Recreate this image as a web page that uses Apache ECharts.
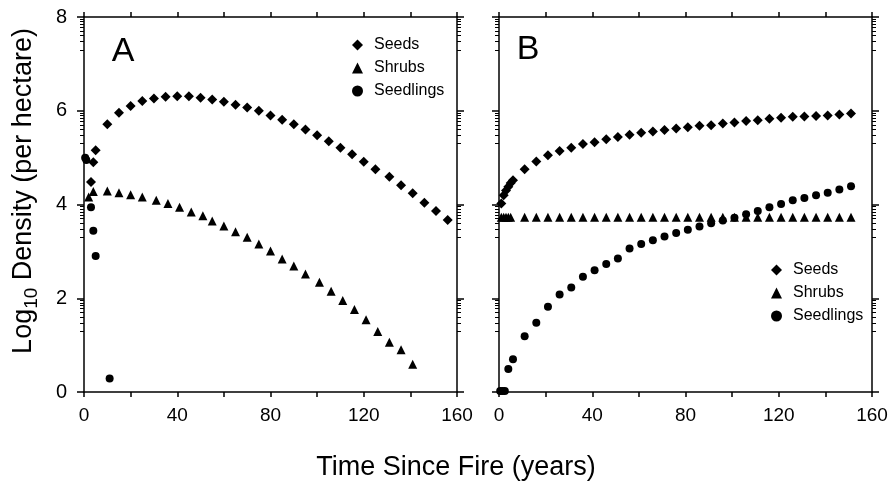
<!DOCTYPE html>
<html>
<head>
<meta charset="utf-8">
<script src="https://cdn.jsdelivr.net/npm/echarts@6/dist/echarts.min.js"></script>
<style>
  html, body { margin: 0; padding: 0; background: #fff; }
  #chart { width: 891px; height: 490px; }
</style>
</head>
<body>
<div id="chart"></div>
<script>
// panel A: [years since fire, log10 density]
const seedsA = [[3, 4.48], [4, 4.9], [5, 5.16], [10, 5.71], [15, 5.96], [20, 6.1], [25, 6.21], [30, 6.26], [35, 6.3], [40, 6.31], [45, 6.31], [50, 6.28], [55, 6.24], [60, 6.19], [65, 6.13], [70, 6.07], [75, 6.0], [80, 5.9], [85, 5.81], [90, 5.71], [95, 5.6], [100, 5.48], [105, 5.35], [110, 5.21], [115, 5.07], [120, 4.91], [125, 4.75], [131, 4.59], [136, 4.41], [141, 4.24], [146, 4.04], [151, 3.86], [156, 3.67]]
const shrubsA = [[2, 4.16], [4, 4.28], [10, 4.29], [15, 4.25], [20, 4.21], [25, 4.16], [31, 4.09], [36, 4.02], [41, 3.94], [46, 3.84], [51, 3.76], [55, 3.65], [60, 3.54], [65, 3.42], [70, 3.3], [75, 3.16], [80, 3.01], [85, 2.84], [90, 2.69], [95, 2.52], [101, 2.34], [106, 2.15], [111, 1.95], [116, 1.76], [121, 1.54], [126, 1.29], [131, 1.06], [136, 0.9], [141, 0.59]]
const seedlingsA = [[0.5, 5.0], [1, 4.95], [3, 3.94], [4, 3.44], [5, 2.9], [11, 0.29]]

// panel B
const seedsB = [[1, 4.02], [2, 4.2], [3, 4.3], [4, 4.38], [5, 4.46], [6, 4.52], [11, 4.75], [16, 4.92], [21, 5.05], [26, 5.14], [31, 5.21], [36, 5.29], [41, 5.33], [46, 5.39], [51, 5.44], [56, 5.49], [61, 5.53], [66, 5.56], [71, 5.59], [76, 5.62], [81, 5.65], [86, 5.68], [91, 5.69], [96, 5.73], [101, 5.75], [106, 5.78], [111, 5.8], [116, 5.83], [121, 5.85], [126, 5.87], [131, 5.88], [136, 5.89], [141, 5.9], [146, 5.92], [151, 5.94]]
const shrubsB = [[1, 3.73], [2, 3.73], [3, 3.73], [4, 3.73], [5, 3.73], [11, 3.73], [16, 3.73], [21, 3.73], [26, 3.73], [31, 3.73], [36, 3.73], [41, 3.73], [46, 3.73], [51, 3.73], [56, 3.73], [61, 3.73], [66, 3.73], [71, 3.73], [76, 3.73], [81, 3.73], [86, 3.73], [91, 3.73], [96, 3.73], [101, 3.73], [106, 3.73], [111, 3.73], [116, 3.73], [121, 3.73], [126, 3.73], [131, 3.73], [136, 3.73], [141, 3.73], [146, 3.73], [151, 3.73]]
const seedlingsB = [[0.5, 0.02], [1.5, 0.02], [2.5, 0.02], [4, 0.49], [6, 0.7], [11, 1.19], [16, 1.48], [21, 1.82], [26, 2.08], [31, 2.23], [36, 2.46], [41, 2.6], [46, 2.73], [51, 2.85], [56, 3.06], [61, 3.16], [66, 3.24], [71, 3.32], [76, 3.39], [81, 3.46], [86, 3.53], [91, 3.6], [96, 3.66], [101, 3.72], [106, 3.79], [111, 3.86], [116, 3.94], [121, 4.01], [126, 4.09], [131, 4.14], [136, 4.2], [141, 4.25], [146, 4.32], [151, 4.39]]

const seriesNames = ['Seeds', 'Shrubs', 'Seedlings']
const seriesSymbols = ['diamond', 'triangle', 'circle']

// log style minor ticks on the y axes: d + log10(m)
const minorDecades = [1, 3, 5, 7]
const minorMantissas = [2, 3, 4, 5, 6, 7, 8, 9]
const minorTicks = []
minorDecades.forEach(d => minorMantissas.forEach(m => minorTicks.push(d + Math.log10(m))))

const FONT = '"Liberation Sans", Arial, sans-serif'
const line = { color: '#000', width: 1.5 }

const chart = echarts.init(document.getElementById('chart'))

const panels = [
  { left: 84, width: 373 },
  { left: 499, width: 373 }
]
const grid = []
panels.forEach(p => grid.push({ left: p.left, width: p.width, top: 17, height: 375, containLabel: false, outerBoundsMode: 'none' }))
panels.forEach(p => grid.push({ left: p.left, width: p.width, top: 17, height: 375, containLabel: false, outerBoundsMode: 'none' }))

const xAxis = []
const yAxis = []
for (let g = 0; g < 2; g++)
{
  const base = { type: 'value', gridIndex: g, min: 0, max: 160, interval: 20, splitLine: { show: false } }
  xAxis.push({ ...base, position: 'bottom',
    axisLine: { show: true, onZero: false, lineStyle: line },
    axisTick: { show: true, length: 5, lineStyle: line },
    axisLabel: { margin: 14, color: '#000', fontSize: 19, fontFamily: FONT,
      formatter: v => (v % 40 === 0 ? String(v) : '') } })
  xAxis.push({ ...base, position: 'top',
    axisLine: { show: true, onZero: false, lineStyle: line },
    axisTick: { show: true, length: 5, lineStyle: line },
    axisLabel: { show: false } })
  const yb = { type: 'value', gridIndex: g, min: 0, max: 8, interval: 2, splitLine: { show: false } }
  yAxis.push({ ...yb, position: 'left',
    axisLine: { show: true, onZero: false, lineStyle: line },
    axisTick: { show: true, length: 7, lineStyle: line },
    axisLabel: { show: g === 0, margin: 17, color: '#000', fontSize: 20, fontFamily: FONT } })
  yAxis.push({ ...yb, position: 'right',
    axisLine: { show: true, onZero: false, lineStyle: line },
    axisTick: { show: true, length: 7, lineStyle: line },
    axisLabel: { show: false } })
}
// overlay grids that only carry the short minor ticks
for (let g = 2; g < 4; g++)
{
  xAxis.push({ type: 'value', gridIndex: g, min: 0, max: 160, show: false })
  const yb = { type: 'value', gridIndex: g, min: 0, max: 8, splitLine: { show: false },
    axisLine: { show: false }, axisLabel: { show: false },
    axisTick: { show: true, length: 4, customValues: minorTicks, lineStyle: { color: '#000', width: 1 } } }
  yAxis.push({ ...yb, position: 'left' })
  yAxis.push({ ...yb, position: 'right' })
}

const panelData = [[seedsA, shrubsA, seedlingsA], [seedsB, shrubsB, seedlingsB]]
const sizes = [10, 9, 8]
const series = []
panelData.forEach((sets, p) =>
{
  sets.forEach((d, i) =>
  {
    series.push({
      name: seriesNames[i],
      type: 'scatter',
      xAxisIndex: p * 2,
      yAxisIndex: p * 2,
      data: d,
      symbol: seriesSymbols[i],
      symbolSize: sizes[i],
      itemStyle: { color: '#000', opacity: 1 },
      silent: true,
      animation: false
    })
  })
})

const legendItems = seriesNames.map((n, i) => ({ name: n, icon: seriesSymbols[i] }))
function makeLegend(left, top)
{
  return {
    left: left, top: top, orient: 'vertical', itemGap: 7, itemWidth: 11, itemHeight: 11,
    selectedMode: false, padding: 0,
    data: legendItems,
    itemStyle: { opacity: 1 },
    textStyle: { color: '#000', fontSize: 16, fontFamily: FONT, padding: [0, 0, 0, 6] }
  }
}

chart.setOption({
  animation: false,
  grid: grid,
  xAxis: xAxis,
  yAxis: yAxis,
  legend: [makeLegend(352, 37), makeLegend(771, 262)],
  series: series,
  graphic: [
    { type: 'text', x: 123, y: 52, style: { text: 'A', font: '34px ' + FONT, fill: '#000', textAlign: 'center', textVerticalAlign: 'middle' } },
    { type: 'text', x: 528, y: 50, style: { text: 'B', font: '34px ' + FONT, fill: '#000', textAlign: 'center', textVerticalAlign: 'middle' } },
    { type: 'text', x: 456, y: 468, style: { text: 'Time Since Fire (years)', font: '27px ' + FONT, fill: '#000', textAlign: 'center', textVerticalAlign: 'middle' } },
    { type: 'text', x: 24, y: 191, rotation: Math.PI / 2,
      style: { text: '{n|Log}{s|10}{n| Density (per hectare)}', fill: '#000', textAlign: 'center', textVerticalAlign: 'middle',
        rich: {
          n: { fontSize: 27, fontFamily: FONT, lineHeight: 34 },
          s: { fontSize: 19, fontFamily: FONT, lineHeight: 19, verticalAlign: 'bottom' }
        } } }
  ]
})
</script>
</body>
</html>
